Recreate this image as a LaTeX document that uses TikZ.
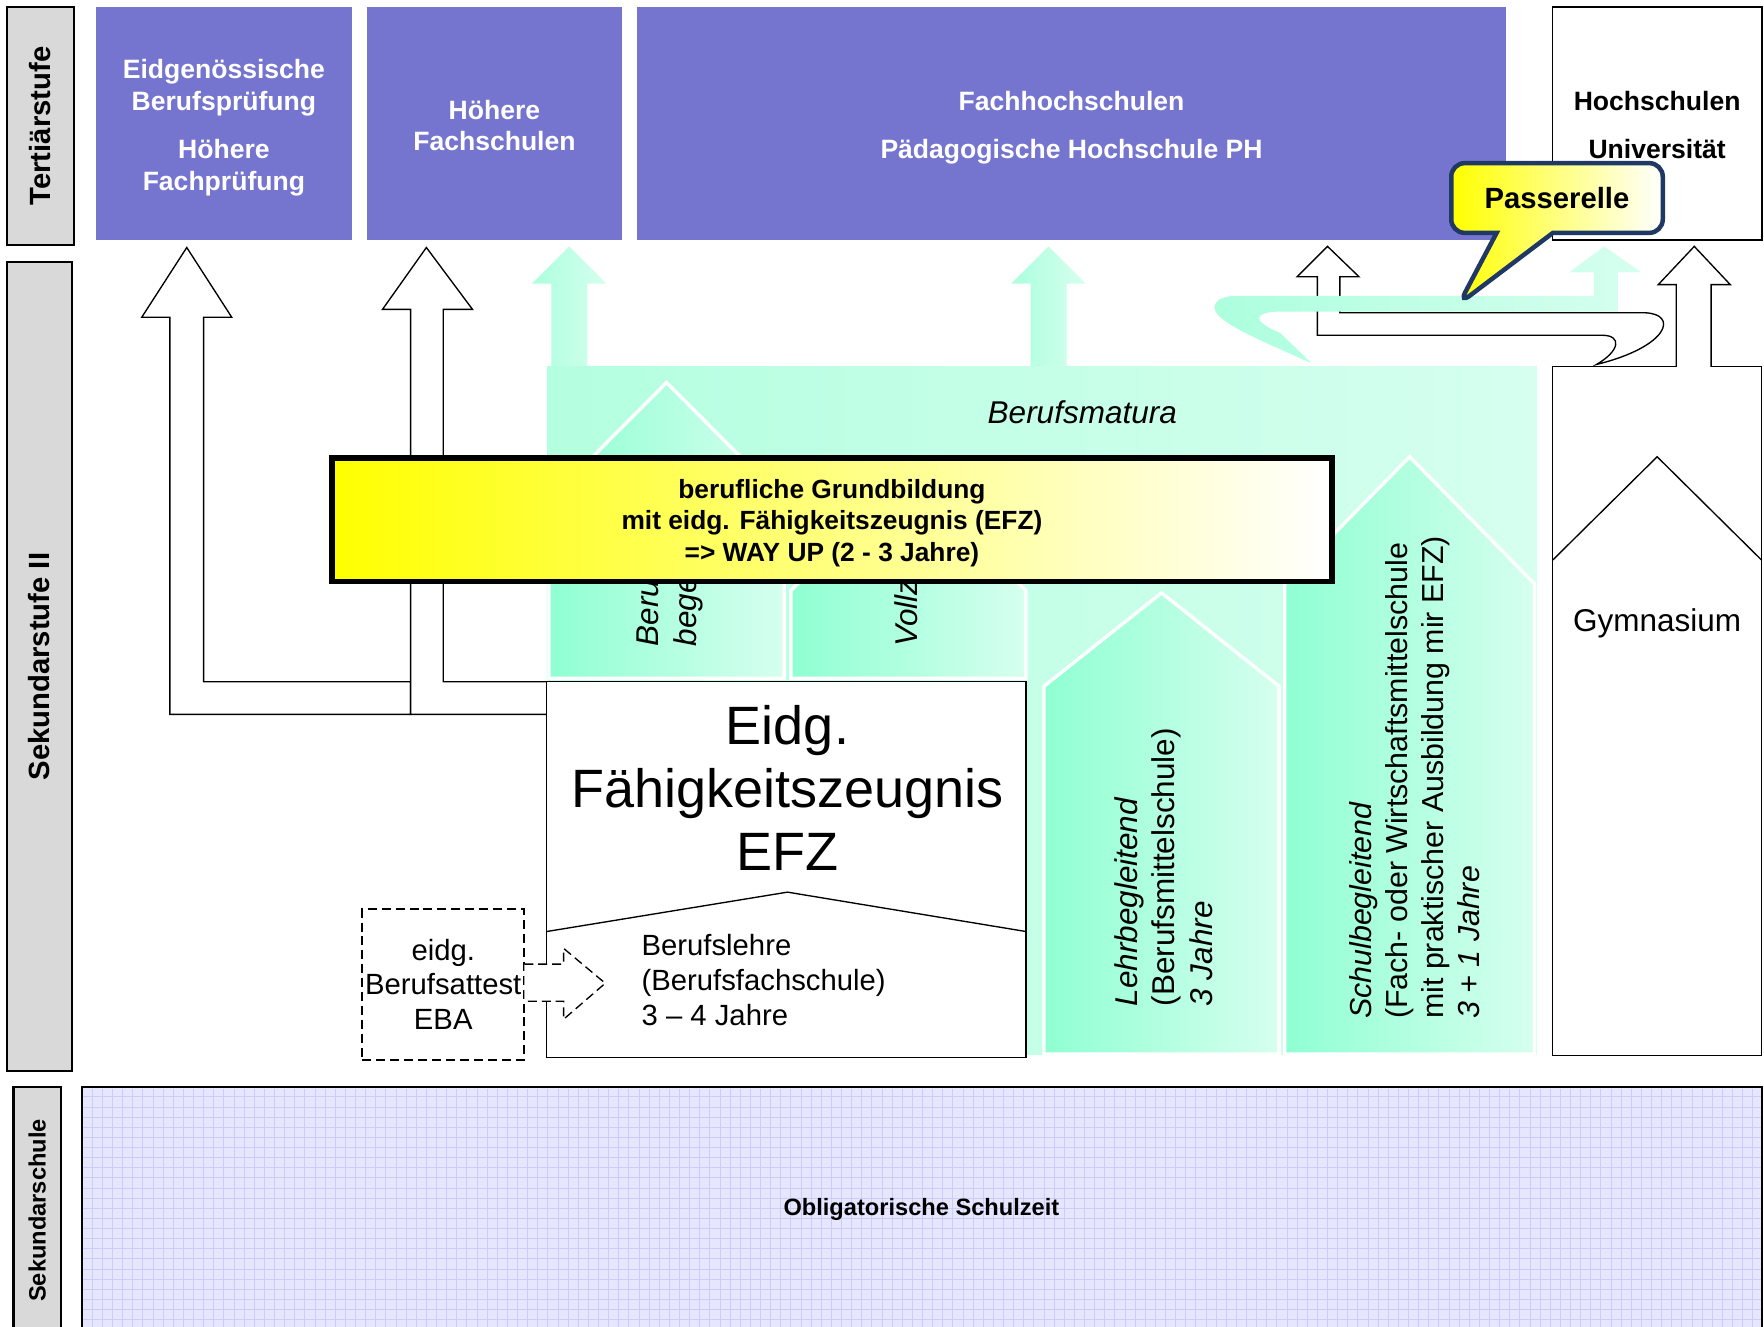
\documentclass[tikz,border=0pt]{standalone}
\usepackage{fontspec}
\setmainfont{Liberation Sans}
\usepackage{tikz}
\usetikzlibrary{shapes.callouts}

\definecolor{tertblue}{RGB}{117,117,208}
\definecolor{stagegray}{RGB}{217,217,217}
\definecolor{mintdark}{RGB}{143,255,210}
\definecolor{mintmid}{RGB}{180,255,224}
\definecolor{mintlight}{RGB}{214,255,239}
\definecolor{gridbg}{RGB}{230,230,255}
\definecolor{gridline}{RGB}{204,204,250}
\definecolor{callnavy}{RGB}{31,56,100}

\tikzset{
  stage/.style={draw, line width=1pt, fill=stagegray, rotate=90, inner sep=0pt,
    font=\fontsize{13}{15}\selectfont\bfseries},
  tertbox/.style={fill=tertblue, inner sep=0pt},
  terttext/.style={text=white, align=center, inner sep=0pt,
    font=\fontsize{11.8}{14}\selectfont\bfseries},
  plainbox/.style={draw, fill=white, line width=0.6pt, inner sep=0pt},
  blockarrow/.style={draw, fill=white, line width=0.6pt},
  mintarrow/.style={left color=mintdark!60!mintlight, right color=mintlight},
  column/.style={draw=white, line width=1.5pt, left color=mintdark, right color=mintlight},
  coltext/.style={rotate=90, anchor=north west, align=left, inner sep=0pt,
    font=\fontsize{14}{16.8}\selectfont},
}

\begin{document}
\begin{tikzpicture}[x=0.5pt, y=-0.5pt]
\def \pu {0.5pt} % one pixel of the layout
\useasboundingbox (0,0) rectangle (1568,1179);

% stages on the left
\node[stage, minimum width=212*\pu, minimum height=60*\pu] (tert) at (36,112) {Tertiärstufe};
\node[stage, minimum width=719*\pu, minimum height=58*\pu] (sekii) at (35,592.5) {Sekundarstufe II};
\node[stage, minimum width=220*\pu, minimum height=42*\pu,
  font=\fontsize{10.5}{12}\selectfont\bfseries] (sek) at (33,1076) {Sekundarschule};

% tertiary level
\node[tertbox, minimum width=228*\pu, minimum height=207*\pu] (ebp) at (199,109.5) {};
\node[terttext] (ebpt) at (199,113.5) {Eidgenössische\\Berufsprüfung\\[7.5pt]Höhere\\Fachprüfung};
\node[tertbox, minimum width=227*\pu, minimum height=207*\pu] (hfs) at (439.5,109.5) {};
\node[terttext] (hfst) at (439.5,111.5) {Höhere\\Fachschulen};
\node[tertbox, minimum width=773*\pu, minimum height=207*\pu] (fh) at (952.5,109.5) {};
\node[terttext] (fht) at (952.5,113.5) {Fachhochschulen\\[7.5pt]Pädagogische Hochschule PH};
\node[plainbox, line width=0.8pt, minimum width=186*\pu, minimum height=207*\pu] (uni) at (1473,109.5) {};
\node[terttext, text=black] (unit) at (1473,111) {Hochschulen\\[7.5pt]Universität};

% white arrows from EFZ
\draw[blockarrow] (151,635) -- (151,282) -- (126,282) -- (166,220) -- (206,282) -- (181,282)
  -- (181,606) -- (365,606) -- (365,635) -- cycle;
\draw[blockarrow] (365,635) -- (365,275) -- (340,275) -- (379,220) -- (420,275) -- (394,275)
  -- (394,606) -- (486,606) -- (486,635) -- cycle;

% green arrows from Berufsmatura
\foreach \gx in {506,932}
  \path[mintarrow] (\gx-16,326) -- (\gx-16,252) -- (\gx-33,252) -- (\gx,219)
    -- (\gx+33,252) -- (\gx+16,252) -- (\gx+16,326) -- cycle;

% Berufsmatura
\node[inner sep=0pt, minimum width=880*\pu, minimum height=611*\pu,
  left color=mintmid, right color=mintlight] (bm) at (926,631.5) {};
\foreach \xl/\xr/\ya/\ys/\yb in {488/697/340/445/603, 703/912/421/525/603,
    928/1137/527/610/937, 1142/1364/406/519/937}
  \path[column] (\xl,\yb) -- (\xl,\ys) -- ({(\xl+\xr)/2},\ya) -- (\xr,\ys) -- (\xr,\yb) -- cycle;
\node[coltext, font=\fontsize{14}{16.8}\selectfont\itshape] (berb) at (565,575) {Berufs-\\begeleitend};
\node[coltext, font=\fontsize{14}{16.8}\selectfont\itshape] (voll) at (795,575) {Vollzeit};
\node[coltext] (lehr) at (990,895) {\textit{Lehrbegleitend}\\(Berufsmittelschule)\\\textit{3 Jahre}};
\node[coltext, font=\fontsize{13.5}{16}\selectfont] (schul) at (1199,906)
  {\textit{Schulbegleitend}\\(Fach- oder Wirtschaftsmittelschule\\mit praktischer Ausbildung mir EFZ)\\\textit{3 + 1 Jahre}};
\node[font=\fontsize{14}{16}\selectfont\itshape] (bmt) at (962,366) {Berufsmatura};

% Gymnasium
\node[plainbox, minimum width=186*\pu, minimum height=612*\pu] (gym) at (1473,632) {};
\draw[line width=0.6pt] (1380,498) -- (1473,406) -- (1566,498);
\node[font=\fontsize{14}{16}\selectfont] (gymt) at (1473,554) {Gymnasium};
\draw[blockarrow] (1490,326) -- (1490,253) -- (1474,253) -- (1506,219) -- (1538,253)
  -- (1521,253) -- (1521,326);
\draw[blockarrow] (1180,219) -- (1208,246) -- (1191,246) -- (1191,278) -- (1462,278)
  .. controls (1492,279) and (1484,308) .. (1419,324)
  .. controls (1440,312) and (1442,298) .. (1424,298)
  -- (1171,298) -- (1171,246) -- (1153,246) -- cycle;

% Passerelle
\path[mintarrow] (1426,219) -- (1459,242) -- (1438,242) -- (1438,277) -- (1135,277)
  .. controls (1115,278) and (1112,285) .. (1138,296) -- (1166,323)
  .. controls (1120,302) and (1070,283) .. (1081,269)
  .. controls (1084,265) and (1090,263) .. (1100,263)
  -- (1417,263) -- (1417,242) -- (1395,242) -- cycle;
\node[rectangle callout, callout absolute pointer={(1297,270)}, callout pointer width=25pt,
  draw=callnavy, line width=2pt, rounded corners=6pt, left color=yellow, right color=white,
  minimum width=188*\pu, minimum height=62*\pu, inner sep=0pt,
  font=\fontsize{13}{15}\selectfont\bfseries] (pass) at (1384,176) {Passerelle};

% way up
\node[draw, line width=2.5pt, left color=yellow, right color=white, inner sep=0pt,
  minimum width=889*\pu, minimum height=110*\pu] (wayup) at (739.5,462) {};
\node[align=center, inner sep=0pt, font=\fontsize{11.7}{14}\selectfont\bfseries] (wayupt) at (739.5,465)
  {berufliche Grundbildung\\mit eidg. Fähigkeitszeugnis (EFZ)\\=> WAY UP (2 - 3 Jahre)};

% EFZ and EBA
\node[plainbox, minimum width=426*\pu, minimum height=334*\pu] (efz) at (699,773) {};
\node[align=center, inner sep=0pt, font=\fontsize{24}{28}\selectfont] (efzt) at (700,700.5)
  {Eidg.\\Fähigkeitszeugnis\\EFZ};
\draw[line width=0.6pt] (486,828) -- (700,793) -- (912,828);
\node[anchor=west, align=left, inner sep=0pt, font=\fontsize{13}{15.5}\selectfont] (lehre) at (570,871)
  {Berufslehre\\(Berufsfachschule)\\3 – 4 Jahre};
\node[draw, line width=0.8pt, dash pattern=on 4pt off 2.2pt, align=center, inner sep=0pt,
  minimum width=144*\pu, minimum height=134*\pu, font=\fontsize{13}{15.5}\selectfont]
  (eba) at (394,875) {eidg.\\Berufsattest\\EBA};
\draw[fill=white, line width=0.6pt, dash pattern=on 4pt off 2.2pt] (466,857) -- (501,857) -- (501,843)
  -- (538,874) -- (501,906) -- (501,890) -- (466,890);

% compulsory school
\node[draw, fill=gridbg, line width=0.8pt, inner sep=0pt, minimum width=1493*\pu,
  minimum height=220*\pu] (obl) at (819.5,1076) {};
\foreach \gx in {82,91,...,1562}
  \draw[gridline, line width=0.4pt] (\gx,968) -- (\gx,1185);
\foreach \gy in {975,984,...,1179}
  \draw[gridline, line width=0.4pt] (74,\gy) -- (1565,\gy);
\node[font=\fontsize{10.5}{12}\selectfont\bfseries] (oblt) at (819,1075) {Obligatorische Schulzeit};
\end{tikzpicture}
\end{document}
